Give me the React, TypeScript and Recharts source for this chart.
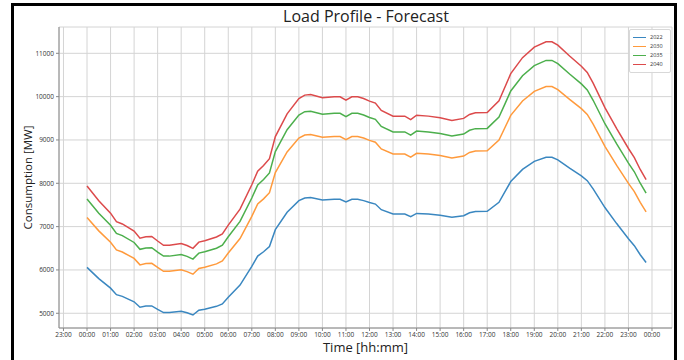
import React from 'react';
import { LineChart, Line, XAxis, YAxis, CartesianGrid } from 'recharts';

const times = [0, 0.5, 1, 1.25, 1.5, 2, 2.25, 2.5, 2.75, 3, 3.25, 3.5, 4, 4.25, 4.5, 4.75, 5, 5.5, 5.75, 6, 6.5, 7, 7.25, 7.5, 7.75, 8, 8.5, 9, 9.25, 9.5, 10, 10.5, 10.75, 11, 11.25, 11.5, 11.75, 12, 12.25, 12.5, 13, 13.5, 13.75, 14, 14.5, 15, 15.5, 16, 16.25, 16.5, 17, 17.5, 17.75, 18, 18.5, 19, 19.5, 19.75, 20, 20.5, 21, 21.25, 21.5, 22, 22.5, 23, 23.25, 23.5, 23.75];

const load2022 = [6060, 5800, 5580, 5430, 5390, 5265, 5140, 5165, 5170, 5090, 5015, 5015, 5045, 5010, 4960, 5070, 5095, 5160, 5215, 5370, 5650, 6080, 6320, 6420, 6540, 6930, 7330, 7600, 7660, 7670, 7615, 7630, 7630, 7570, 7630, 7630, 7600, 7555, 7520, 7390, 7290, 7290, 7230, 7305, 7290, 7260, 7215, 7250, 7320, 7350, 7355, 7560, 7800, 8040, 8320, 8505, 8600, 8600, 8540, 8350, 8170, 8060, 7870, 7440, 7070, 6720, 6560, 6350, 6170];

const load2030 = [7211, 6902, 6640, 6462, 6414, 6265, 6117, 6146, 6152, 6057, 5968, 5968, 6004, 5962, 5902, 6033, 6063, 6140, 6206, 6390, 6724, 7235, 7521, 7640, 7783, 8247, 8723, 9044, 9115, 9127, 9062, 9080, 9080, 9008, 9080, 9080, 9044, 8990, 8949, 8794, 8675, 8675, 8604, 8693, 8675, 8639, 8586, 8628, 8711, 8747, 8752, 8996, 9282, 9568, 9901, 10121, 10234, 10234, 10163, 9937, 9722, 9591, 9365, 8854, 8413, 7997, 7806, 7557, 7342];

const load2035 = [7636, 7308, 7031, 6842, 6791, 6634, 6476, 6508, 6514, 6413, 6319, 6319, 6357, 6313, 6250, 6388, 6420, 6502, 6571, 6766, 7119, 7661, 7963, 8089, 8240, 8732, 9236, 9576, 9652, 9664, 9595, 9614, 9614, 9538, 9614, 9614, 9576, 9519, 9475, 9311, 9185, 9185, 9110, 9204, 9185, 9148, 9091, 9135, 9223, 9261, 9267, 9526, 9828, 10130, 10483, 10716, 10836, 10836, 10760, 10521, 10294, 10156, 9916, 9374, 8908, 8467, 8266, 8001, 7774];

const load2040 = [7939, 7598, 7310, 7113, 7061, 6897, 6733, 6766, 6773, 6668, 6570, 6570, 6609, 6563, 6498, 6642, 6674, 6760, 6832, 7035, 7402, 7965, 8279, 8410, 8567, 9078, 9602, 9956, 10035, 10048, 9976, 9995, 9995, 9917, 9995, 9995, 9956, 9897, 9851, 9681, 9550, 9550, 9471, 9570, 9550, 9511, 9452, 9498, 9589, 9629, 9635, 9904, 10218, 10532, 10899, 11142, 11266, 11266, 11187, 10939, 10703, 10559, 10310, 9746, 9262, 8803, 8594, 8319, 8083];

const seriesNames = ['2022', '2030', '2035', '2040'];
const seriesColors = ['#3a87c0', '#ff9a3c', '#4caf4c', '#dc4a4b'];

const xTicks = [-1, 0, 1, 2, 3, 4, 5, 6, 7, 8, 9, 10, 11, 12, 13, 14, 15, 16, 17, 18, 19, 20, 21, 22, 23, 24];
const xTickLabels = ['23:00', '00:00', '01:00', '02:00', '03:00', '04:00', '05:00', '06:00', '07:00', '08:00', '09:00', '10:00', '11:00', '12:00', '13:00', '14:00', '15:00', '16:00', '17:00', '18:00', '19:00', '20:00', '21:00', '22:00', '23:00', '00:00'];
const yTicks = [5000, 6000, 7000, 8000, 9000, 10000, 11000];

const data = times.map((t, i) => ({
  t,
  '2022': load2022[i],
  '2030': load2030[i],
  '2035': load2035[i],
  '2040': load2040[i],
}));

const FONT = '"Open Sans", "DejaVu Sans", sans-serif';

export default function App() {
  return (
    <div style={{ position: 'absolute', left: 0, top: 0, width: 684, height: 360, background: '#fff', overflow: 'hidden' }}>
      <div style={{ position: 'absolute', left: 0, top: 5, width: 684, textAlign: 'center', fontFamily: FONT, fontSize: 16, color: '#222', paddingLeft: 48, boxSizing: 'border-box' }}>
        Load Profile - Forecast
      </div>
      <LineChart width={684} height={360} data={data} margin={{ top: 27, right: 12, bottom: 0, left: 0 }} style={{ fontFamily: FONT }}>
        <CartesianGrid stroke="#d4d4d4" strokeWidth={1} />
        <XAxis
          dataKey="t"
          type="number"
          domain={[-1.19, 24.85]}
          allowDataOverflow
          ticks={xTicks}
          interval={0}
          tickFormatter={(v: number) => xTickLabels[xTicks.indexOf(v)]}
          tick={{ fontSize: 6.5, fill: '#333' }}
          tickSize={3}
          tickMargin={1.5}
          stroke="#888"
          height={32}
          label={{
            content: (p: any) => (
              <text x={p.viewBox.x + p.viewBox.width / 2} y={352} textAnchor="middle" fontSize={13} fill="#222" fontFamily={FONT}>
                Time [hh:mm]
              </text>
            ),
          }}
        />
        <XAxis xAxisId="top" orientation="top" type="number" domain={[0, 1]} tick={false} tickLine={false} height={0} stroke="#888" />
        <YAxis
          type="number"
          domain={[4660, 11607]}
          allowDataOverflow
          ticks={yTicks}
          interval={0}
          tick={{ fontSize: 6.5, fill: '#333' }}
          tickSize={3}
          tickMargin={2}
          stroke="#888"
          width={59}
          label={{
            content: (p: any) => {
              const cx = 27;
              const cy = p.viewBox.y + p.viewBox.height / 2;
              return (
                <text x={cx} y={cy} transform={`rotate(-90, ${cx}, ${cy})`} textAnchor="middle" dominantBaseline="central" fontSize={11.5} fill="#222" fontFamily={FONT}>
                  Consumption [MW]
                </text>
              );
            },
          }}
        />
        <YAxis yAxisId="right" orientation="right" type="number" domain={[0, 1]} tick={false} tickLine={false} width={0} stroke="#888" />
        {seriesNames.map((name, i) => (
          <Line key={name} type="linear" dataKey={name} name={name} stroke={seriesColors[i]} strokeWidth={1.5} dot={false} isAnimationActive={false} />
        ))}
      </LineChart>
      <div style={{ position: 'absolute', left: 629, top: 29, width: 42, border: '1px solid #d8d8d8', borderRadius: 2, background: 'rgba(255,255,255,0.9)', padding: '3px', boxSizing: 'border-box', fontFamily: FONT }}>
        {seriesNames.map((name, i) => (
          <div key={name} style={{ display: 'flex', alignItems: 'center', height: 9 }}>
            <div style={{ width: 13, height: 0, borderTop: `1.5px solid ${seriesColors[i]}`, marginRight: 4 }} />
            <span style={{ fontSize: 5.5, color: '#333', lineHeight: '9px' }}>{name}</span>
          </div>
        ))}
      </div>
      <div style={{ position: 'absolute', left: 11, top: 3, width: 666, height: 380, border: '3px solid #000', boxSizing: 'border-box', pointerEvents: 'none' }} />
    </div>
  );
}
